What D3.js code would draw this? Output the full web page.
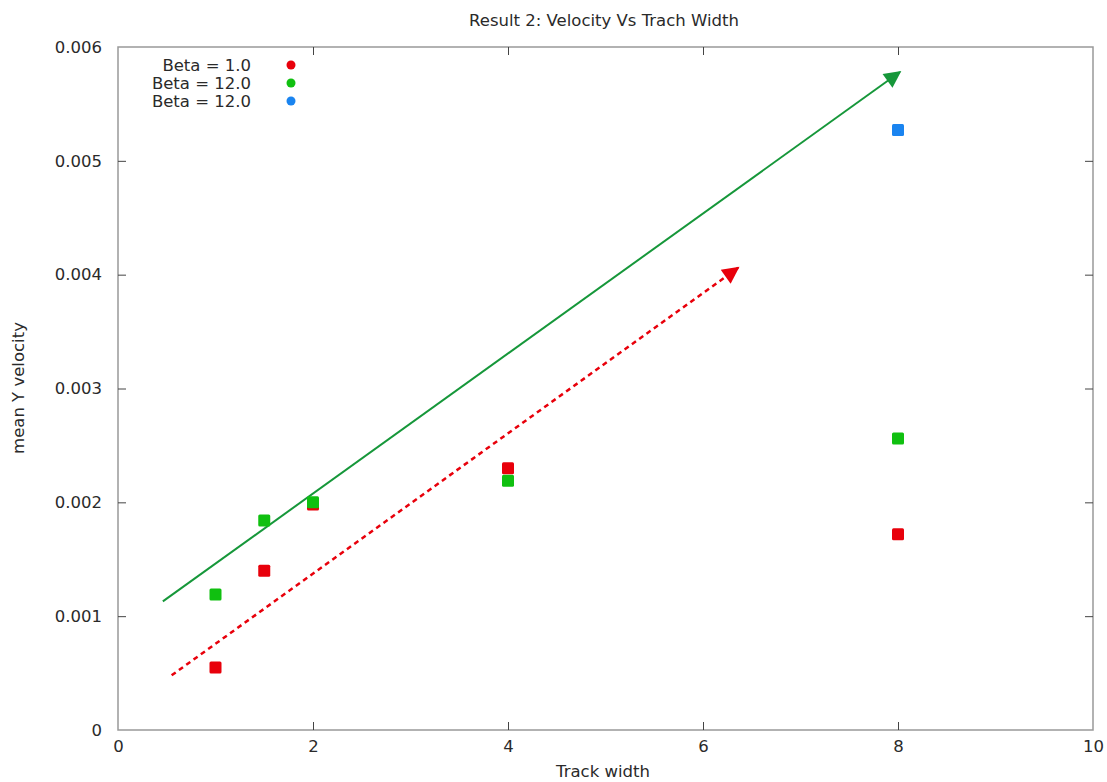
<!DOCTYPE html>
<html>
<head>
<meta charset="utf-8">
<script src="https://cdn.jsdelivr.net/npm/d3@7"></script>
<style>
  body { margin: 0; background: #fff; }
  text { font-family: "DejaVu Sans", sans-serif; fill: #2a2a2a; }
</style>
</head>
<body>
<div class="container"></div>
<script>
// chart values
const trackWidths = [1, 1.5, 2, 4, 8];
const beta1 = [0.00055, 0.0014, 0.00198, 0.0023, 0.00172];
const beta12 = [0.00119, 0.00184, 0.002, 0.00219, 0.00256];
const beta12b = [[8, 0.00527]];
const legendLabels = ["Beta = 1.0", "Beta = 12.0", "Beta = 12.0"];
const legendColors = ["#e8000b", "#10c010", "#1a84f0"];
const xTicks = [0, 2, 4, 6, 8, 10];
const yTicks = [0, 0.001, 0.002, 0.003, 0.004, 0.005, 0.006];
// trend arrows: [x0, y0, x1, y1]
const greenArrow = [0.46, 0.00113, 8.02, 0.00578];
const redArrow = [0.55, 0.00048, 6.36, 0.00406];

const width = 1107;
const height = 782;
const margin = { top: 47, bottom: 52, left: 118, right: 14 };
const fontSize = "16.5px";

const svg = d3.select(".container")
  .append("svg")
  .attr("width", width)
  .attr("height", height);

const xScale = d3.scaleLinear()
  .domain([0, 10])
  .range([margin.left, width - margin.right]);

const yScale = d3.scaleLinear()
  .domain([0, 0.006])
  .range([height - margin.bottom, margin.top]);

// arrowhead markers
const defs = svg.append("defs");
[["greenHead", "#16973a"], ["redHead", "#e8000b"]].forEach(([id, c]) => {
  defs.append("marker")
    .attr("id", id)
    .attr("viewBox", "0 0 10 10")
    .attr("refX", 9)
    .attr("refY", 5)
    .attr("markerUnits", "userSpaceOnUse")
    .attr("markerWidth", 22)
    .attr("markerHeight", 17)
    .attr("orient", "auto")
    .append("path")
    .attr("d", "M0,0 L10,5 L0,10 Z")
    .attr("fill", c);
});

// frame
svg.append("rect")
  .attr("x", xScale(0))
  .attr("y", yScale(0.006))
  .attr("width", xScale(10) - xScale(0))
  .attr("height", yScale(0) - yScale(0.006))
  .attr("fill", "none")
  .attr("stroke", "#999")
  .attr("stroke-width", 1.5);

// axes with inward ticks, mirrored on the opposite side
function xAxis(g) {
  g.call(d3.axisBottom(xScale).tickValues(xTicks).tickSizeInner(-8).tickSizeOuter(0).tickPadding(10))
    .attr("font-size", fontSize);
  g.select(".domain").remove();
  g.selectAll(".tick line").attr("stroke", "#444");
  g.selectAll(".tick").filter(d => d === 0 || d === 10).select("line").remove();
}
function yAxis(g) {
  g.call(d3.axisLeft(yScale).tickValues(yTicks).tickSizeInner(-8).tickSizeOuter(0).tickPadding(16)
    .tickFormat(d => d === 0 ? "0" : d3.format(".3f")(d)))
    .attr("font-size", fontSize);
  g.select(".domain").remove();
  g.selectAll(".tick line").attr("stroke", "#444");
  g.selectAll(".tick").filter(d => d === 0 || d === 0.006).select("line").remove();
}

svg.append("g")
  .attr("transform", `translate(0, ${yScale(0)})`)
  .call(xAxis);
svg.append("g")
  .attr("transform", `translate(${xScale(0)}, 0)`)
  .call(yAxis);

// mirrored ticks
svg.append("g")
  .attr("transform", `translate(0, ${yScale(0.006)})`)
  .call(d3.axisTop(xScale).tickValues(xTicks.slice(1, -1)).tickSizeInner(-8).tickSizeOuter(0).tickFormat(""))
  .call(g => { g.select(".domain").remove(); g.selectAll(".tick line").attr("stroke", "#444"); });
svg.append("g")
  .attr("transform", `translate(${xScale(10)}, 0)`)
  .call(d3.axisRight(yScale).tickValues(yTicks.slice(1, -1)).tickSizeInner(-8).tickSizeOuter(0).tickFormat(""))
  .call(g => { g.select(".domain").remove(); g.selectAll(".tick line").attr("stroke", "#444"); });

// trend arrows
svg.append("line")
  .attr("x1", xScale(greenArrow[0])).attr("y1", yScale(greenArrow[1]))
  .attr("x2", xScale(greenArrow[2])).attr("y2", yScale(greenArrow[3]))
  .attr("stroke", "#16973a")
  .attr("stroke-width", 2)
  .attr("marker-end", "url(#greenHead)");

svg.append("line")
  .attr("x1", xScale(redArrow[0])).attr("y1", yScale(redArrow[1]))
  .attr("x2", xScale(redArrow[2])).attr("y2", yScale(redArrow[3]))
  .attr("stroke", "#e8000b")
  .attr("stroke-width", 2.5)
  .attr("stroke-dasharray", "5,4")
  .attr("marker-end", "url(#redHead)");

// points
function drawSquares(points, color) {
  svg.append("g")
    .selectAll("rect")
    .data(points)
    .join("rect")
    .attr("x", d => xScale(d[0]) - 6)
    .attr("y", d => yScale(d[1]) - 6)
    .attr("width", 12)
    .attr("height", 12)
    .attr("rx", 1.5)
    .attr("fill", color);
}
drawSquares(trackWidths.map((x, i) => [x, beta1[i]]), legendColors[0]);
drawSquares(trackWidths.map((x, i) => [x, beta12[i]]), legendColors[1]);
drawSquares(beta12b, legendColors[2]);

// legend
const legend = svg.append("g");
legendLabels.forEach((lab, i) => {
  const y = 65 + i * 18;
  legend.append("text")
    .attr("x", 251)
    .attr("y", y)
    .attr("dy", "0.35em")
    .attr("text-anchor", "end")
    .attr("font-size", fontSize)
    .text(lab);
  legend.append("circle")
    .attr("cx", 291)
    .attr("cy", y)
    .attr("r", 4.5)
    .attr("fill", legendColors[i]);
});

// title and axis labels
svg.append("text")
  .attr("x", 604)
  .attr("y", 26)
  .attr("text-anchor", "middle")
  .attr("font-size", fontSize)
  .text("Result 2: Velocity Vs Trach Width");

svg.append("text")
  .attr("x", 603)
  .attr("y", 777)
  .attr("text-anchor", "middle")
  .attr("font-size", fontSize)
  .text("Track width");

svg.append("text")
  .attr("transform", `translate(24, ${388}) rotate(-90)`)
  .attr("text-anchor", "middle")
  .attr("font-size", fontSize)
  .text("mean Y velocity");
</script>
</body>
</html>
